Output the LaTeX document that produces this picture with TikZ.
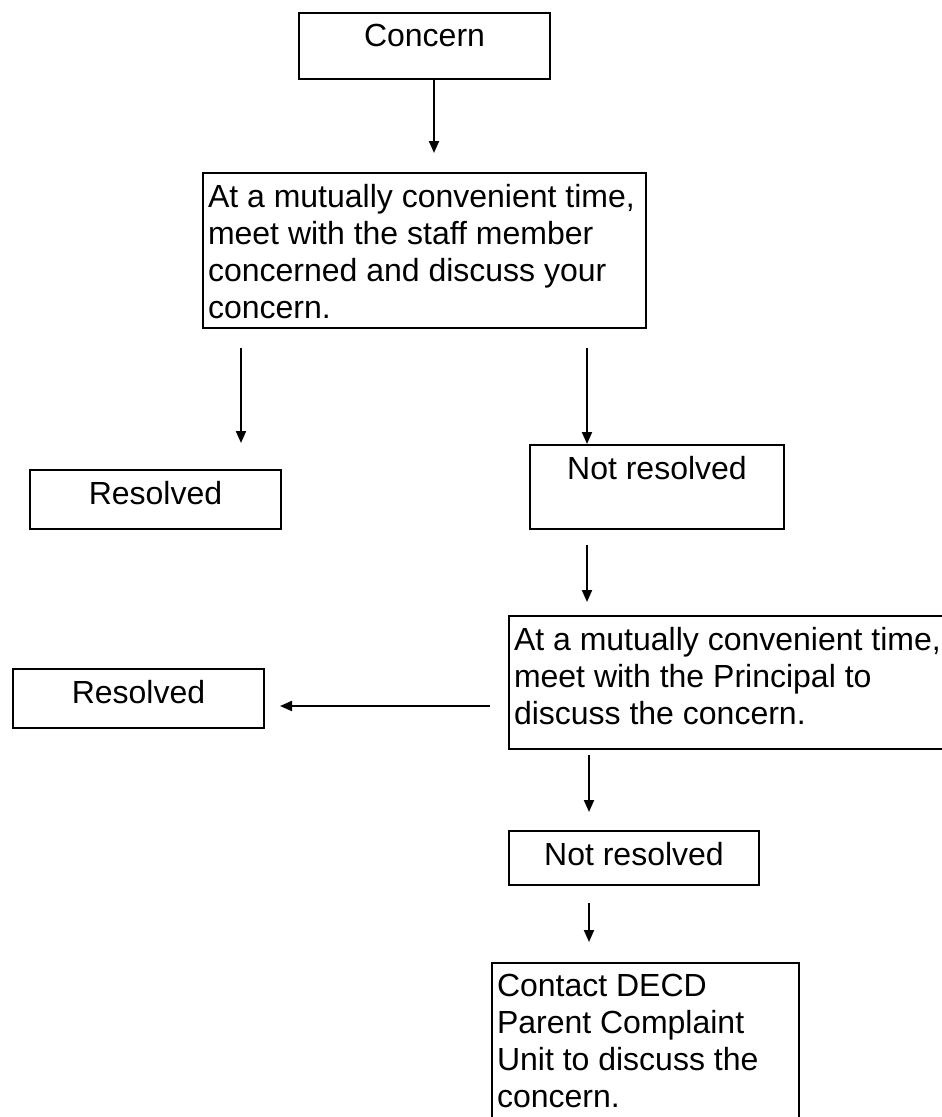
\documentclass[tikz,border=0pt]{standalone}
\usepackage{fontspec}
\setmainfont{Liberation Sans}
\usepackage{tikz}
\usetikzlibrary{arrows.meta}

\newcommand{\boxtext}[3]{\parbox[c][#2][t]{#1}{#3}}

\begin{document}
\begin{tikzpicture}[x=1pt,y=-1pt,>={Triangle[length=12pt,width=10pt]},
    every node/.style={font=\fontsize{32}{37}\selectfont},
    stepbox/.style={draw,line width=2pt,anchor=north west,inner xsep=5pt,inner ysep=11pt}]
      \useasboundingbox (0,0) rectangle (942,1117);
      \clip (0,0) rectangle (942,1117);

      \node[stepbox] (concern) at (298,12) {\boxtext{241pt}{44pt}{\centering Concern}};
      \node[stepbox] (meet) at (202,172) {\boxtext{433pt}{133pt}{\raggedright At a mutually convenient time,\\ meet with the staff member\\ concerned and discuss your\\ concern.}};
      \node[stepbox] (resolvedA) at (29,469) {\boxtext{241pt}{37pt}{\centering Resolved}};
      \node[stepbox] (notresA) at (529,444) {\boxtext{244pt}{62pt}{\centering Not resolved}};
      \node[stepbox] (principal) at (508,615) {\boxtext{442pt}{111pt}{\raggedright At a mutually convenient time,\\ meet with the Principal to\\ discuss the concern.}};
      \node[stepbox] (resolvedB) at (12,668) {\boxtext{241pt}{37pt}{\centering Resolved}};
      \node[stepbox] (notresB) at (508,830) {\boxtext{240pt}{32pt}{\centering Not resolved}};
      \node[stepbox] (decd) at (491,962) {\boxtext{297pt}{158pt}{\raggedright Contact DECD\\ Parent Complaint\\ Unit to discuss the\\ concern.}};

      \coordinate (s1) at (434,78);  \coordinate (e1) at (434,153);
      \coordinate (s2) at (241,348); \coordinate (e2) at (241,443);
      \coordinate (s3) at (587,348); \coordinate (e3) at (587,444);
      \coordinate (s4) at (587,545); \coordinate (e4) at (587,602);
      \coordinate (s5) at (490,706); \coordinate (e5) at (280,706);
      \coordinate (s6) at (589,755); \coordinate (e6) at (589,812);
      \coordinate (s7) at (589,903); \coordinate (e7) at (589,942);

      \path[every edge/.style={draw,->,line width=2pt}]
      (s1) edge (e1)
      (s2) edge (e2)
      (s3) edge (e3)
      (s4) edge (e4)
      (s5) edge (e5)
      (s6) edge (e6)
      (s7) edge (e7);
\end{tikzpicture}
\end{document}
